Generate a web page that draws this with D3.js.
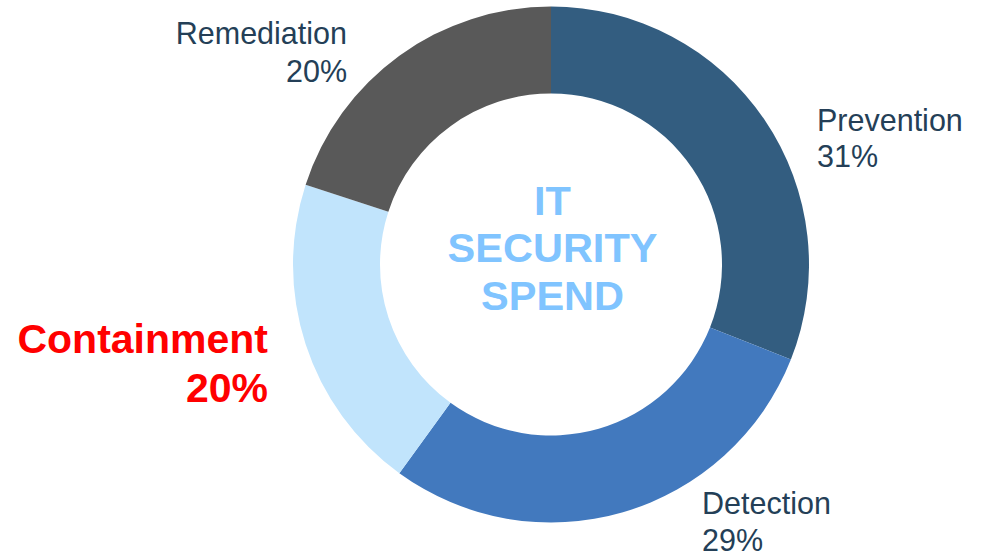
<!DOCTYPE html>
<html lang="en">
<head>
    <meta charset="utf-8"/>
    <title>IT Security Spend</title>
    <script src="https://d3js.org/d3.v7.min.js"></script>
    <style>
        body { margin: 0; background: #fff; }
        svg { display: block; font-family: 'Liberation Sans', Arial, sans-serif; }
    </style>
</head>
<body>
<script>

    var categories = ['Prevention', 'Detection', 'Containment', 'Remediation'];
    var shares = [31, 29, 20, 20];
    var colors = ['#335d80', '#4279be', '#c1e4fc', '#595959'];

    var width = 982;
    var height = 556;
    var cx = 551, cy = 264.5;
    var outerR = 258, innerR = 171;

    // label spots relative to the centre, one per slice
    var labelPos = [
        {dx: 266, dy: -134, anchor: 'start', size: 30.5, bold: false, color: '#243f57', gap: 36},
        {dx: 151, dy: 249, anchor: 'start', size: 30.5, bold: false, color: '#243f57', gap: 37},
        {dx: -283, dy: 88, anchor: 'end', size: 41, bold: true, color: '#ff0000', gap: 49},
        {dx: -204, dy: -221, anchor: 'end', size: 30.5, bold: false, color: '#243f57', gap: 38}
    ];

    var svg = d3.select('body')
                .append('svg')
                .attr('width', width)
                .attr('height', height);

    var g = svg.append('g')
               .attr('transform', 'translate(' + cx + ',' + cy + ')');

    var pie = d3.pie().sort(null).value(function(d){ return d; });
    var arc = d3.arc().innerRadius(innerR).outerRadius(outerR);

    var slices = pie(shares);

    g.selectAll('path')
     .data(slices)
     .enter()
     .append('path')
     .attr('d', arc)
     .attr('fill', function(d, i){ return colors[i]; });

    var labels = g.selectAll('text.lab')
     .data(slices)
     .enter()
     .append('text')
     .attr('class', 'lab')
     .attr('text-anchor', function(d, i){ return labelPos[i].anchor; })
     .attr('fill', function(d, i){ return labelPos[i].color; })
     .attr('font-size', function(d, i){ return labelPos[i].size + 'px'; })
     .attr('font-weight', function(d, i){ return labelPos[i].bold ? 'bold' : 'normal'; });

    labels.append('tspan')
          .attr('x', function(d, i){ return labelPos[i].dx; })
          .attr('y', function(d, i){ return labelPos[i].dy; })
          .text(function(d, i){ return categories[i]; });

    labels.append('tspan')
          .attr('x', function(d, i){ return labelPos[i].dx; })
          .attr('y', function(d, i){ return labelPos[i].dy + labelPos[i].gap; })
          .text(function(d){ return d.value + '%'; });

    var title = ['IT', 'SECURITY', 'SPEND'];
    g.selectAll('text.title')
     .data(title)
     .enter()
     .append('text')
     .attr('class', 'title')
     .attr('text-anchor', 'middle')
     .attr('x', 1.5)
     .attr('y', function(d, i){ return -50 + i * 47.5; })
     .attr('fill', '#80c4ff')
     .attr('font-size', '41.5px')
     .attr('font-weight', 'bold')
     .text(function(d){ return d; });

</script>
</body>
</html>
